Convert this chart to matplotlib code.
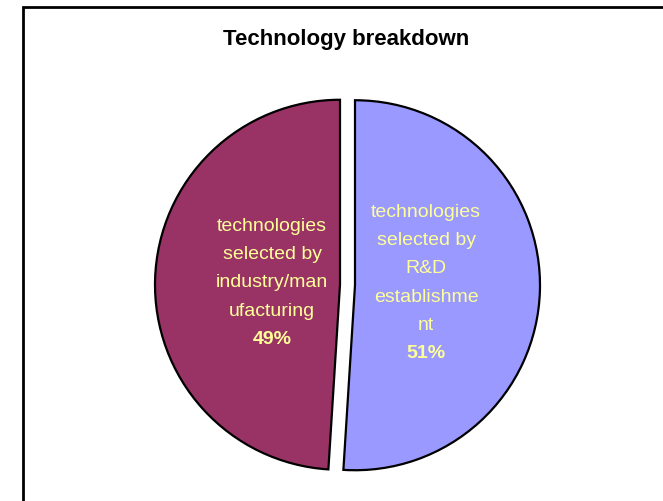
import matplotlib
matplotlib.use("Agg")
import matplotlib.pyplot as plt
from matplotlib.patches import Rectangle

plt.rcParams["font.family"] = ["Liberation Sans", "DejaVu Sans"]

# ---- data ----
title = "Technology breakdown"
shares = [51, 49]  # first slice starts at 12 o'clock, clockwise
names = [
    ["technologies", "selected by", "R&D", "establishme", "nt"],
    ["technologies", "selected by", "industry/man", "ufacturing"],
]
pct_labels = ["51%", "49%"]
colors = ["#9999FF", "#993366"]

W, H = 663, 502
fig = plt.figure(figsize=(W / 100, H / 100), dpi=100)
ax = fig.add_axes([0, 0, 1, 1])

# pie in pixel-like data coords (y measured from bottom)
# note: pie() adds explode straight to the centre, so it is in data units here
cx, cy, r = 347.5, H - 286, 185
ax.pie(shares, colors=colors, startangle=90, counterclock=False,
       explode=[7.5, 7.5], center=(cx, cy), radius=r,
       wedgeprops=dict(edgecolor="black", linewidth=1.6))
ax.set_xlim(0, W)
ax.set_ylim(0, H)
ax.set_aspect("equal")
ax.axis("off")

# labels inside wedges, line by line
label_dx = [78.5, -75.5]
line_h = 28.3
txt_col = "#FFFF99"
for i in range(len(shares)):
    lines = names[i] + [pct_labels[i]]
    n = len(lines)
    y_top = (H - 283) + (n - 1) * line_h / 2
    for j, ln in enumerate(lines):
        bold = (j == n - 1)
        ax.text(cx + label_dx[i], y_top - j * line_h, ln, color=txt_col,
                fontsize=14, fontweight="bold" if bold else "normal",
                ha="center", va="center")

ax.text(346, H - 40, title, fontsize=16, fontweight="bold",
        ha="center", va="center", color="black")

# chart-area frame (runs off the right/bottom edge)
ax.add_patch(Rectangle((23, -20), 700, H - 8 + 20, fill=False,
                       edgecolor="black", linewidth=2, clip_on=False))

fig.savefig("out.png", dpi=100)
